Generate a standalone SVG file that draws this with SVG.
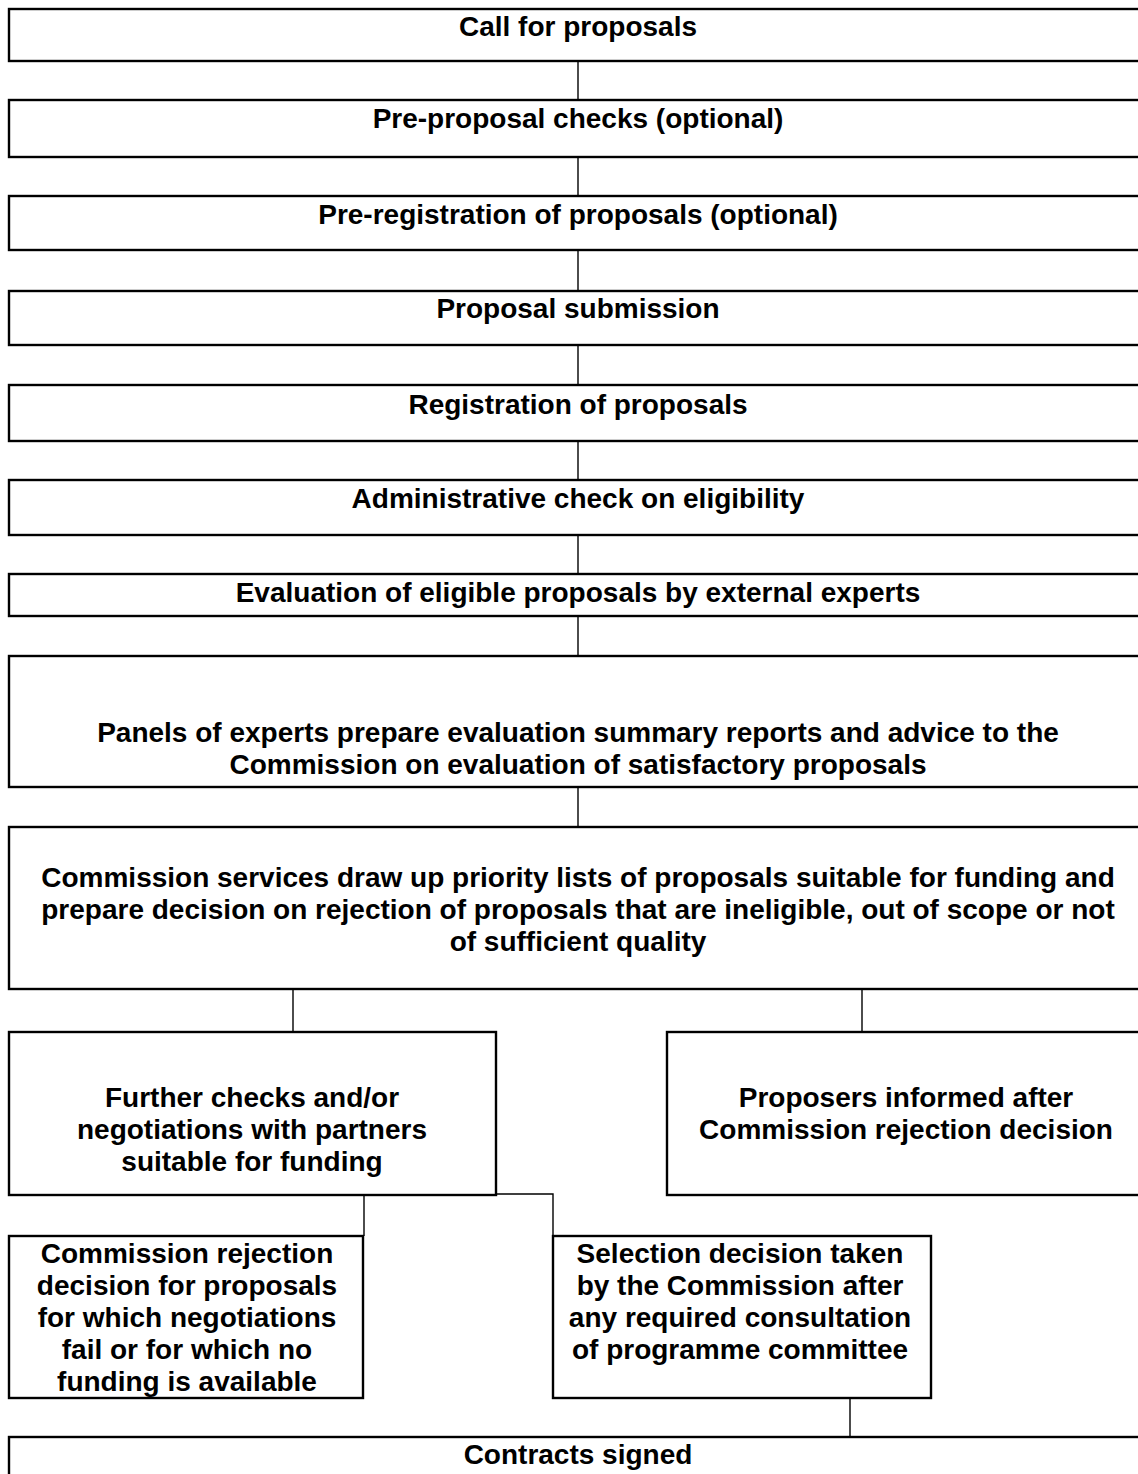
<svg xmlns="http://www.w3.org/2000/svg" width="1138" height="1474" viewBox="0 0 1138 1474">
<style>
.box{fill:#fff;stroke:#000;stroke-width:2.4}
.c{stroke:#000;stroke-width:1.4;fill:none}
text{font-family:"Liberation Sans",Arial,sans-serif;font-weight:bold;font-size:28px;text-anchor:middle;fill:#000}
</style>
<rect width="1138" height="1474" fill="#fff"/>
<g id="connectors">
<line class="c" x1="578" y1="61" x2="578" y2="100"/>
<line class="c" x1="578" y1="157" x2="578" y2="196"/>
<line class="c" x1="578" y1="250" x2="578" y2="291"/>
<line class="c" x1="578" y1="345" x2="578" y2="385"/>
<line class="c" x1="578" y1="441" x2="578" y2="480"/>
<line class="c" x1="578" y1="535" x2="578" y2="574"/>
<line class="c" x1="578" y1="616" x2="578" y2="656"/>
<line class="c" x1="578" y1="787" x2="578" y2="827"/>
<line class="c" x1="293" y1="989" x2="293" y2="1032"/>
<line class="c" x1="862" y1="989" x2="862" y2="1032"/>
<line class="c" x1="364" y1="1195" x2="364" y2="1236"/>
<polyline class="c" points="496,1194 553,1194 553,1236"/>
<line class="c" x1="850" y1="1398" x2="850" y2="1437"/>
</g>
<g id="n1"><rect class="box" x="9" y="9" width="1140" height="52"/><text x="578" y="36">Call for proposals</text></g>
<g id="n2"><rect class="box" x="9" y="100" width="1140" height="57"/><text x="578" y="128">Pre-proposal checks (optional)</text></g>
<g id="n3"><rect class="box" x="9" y="196" width="1140" height="54"/><text x="578" y="224">Pre-registration of proposals (optional)</text></g>
<g id="n4"><rect class="box" x="9" y="291" width="1140" height="54"/><text x="578" y="318">Proposal submission</text></g>
<g id="n5"><rect class="box" x="9" y="385" width="1140" height="56"/><text x="578" y="414">Registration of proposals</text></g>
<g id="n6"><rect class="box" x="9" y="480" width="1140" height="55"/><text x="578" y="508">Administrative check on eligibility</text></g>
<g id="n7"><rect class="box" x="9" y="574" width="1140" height="42"/><text x="578" y="602">Evaluation of eligible proposals by external experts</text></g>
<g id="n8"><rect class="box" x="9" y="656" width="1140" height="131"/><text x="578" y="742">Panels of experts prepare evaluation summary reports and advice to the</text><text x="578" y="774">Commission on evaluation of satisfactory proposals</text></g>
<g id="n9"><rect class="box" x="9" y="827" width="1140" height="162"/><text x="578" y="887">Commission services draw up priority lists of proposals suitable for funding and</text><text x="578" y="919">prepare decision on rejection of proposals that are ineligible, out of scope or not</text><text x="578" y="951">of sufficient quality</text></g>
<g id="n10"><rect class="box" x="9" y="1032" width="487" height="163"/><text x="252" y="1107">Further checks and/or</text><text x="252" y="1139">negotiations with partners</text><text x="252" y="1171">suitable for funding</text></g>
<g id="n11"><rect class="box" x="667" y="1032" width="482" height="163"/><text x="906" y="1107">Proposers informed after</text><text x="906" y="1139">Commission rejection decision</text></g>
<g id="n12"><rect class="box" x="9" y="1236" width="354" height="162"/><text x="187" y="1263">Commission rejection</text><text x="187" y="1295">decision for proposals</text><text x="187" y="1327">for which negotiations</text><text x="187" y="1359">fail or for which no</text><text x="187" y="1391">funding is available</text></g>
<g id="n13"><rect class="box" x="553" y="1236" width="378" height="162"/><text x="740" y="1263">Selection decision taken</text><text x="740" y="1295">by the Commission after</text><text x="740" y="1327">any required consultation</text><text x="740" y="1359">of programme committee</text></g>
<g id="n14"><rect class="box" x="9" y="1437" width="1140" height="60"/><text x="578" y="1464">Contracts signed</text></g>
</svg>
